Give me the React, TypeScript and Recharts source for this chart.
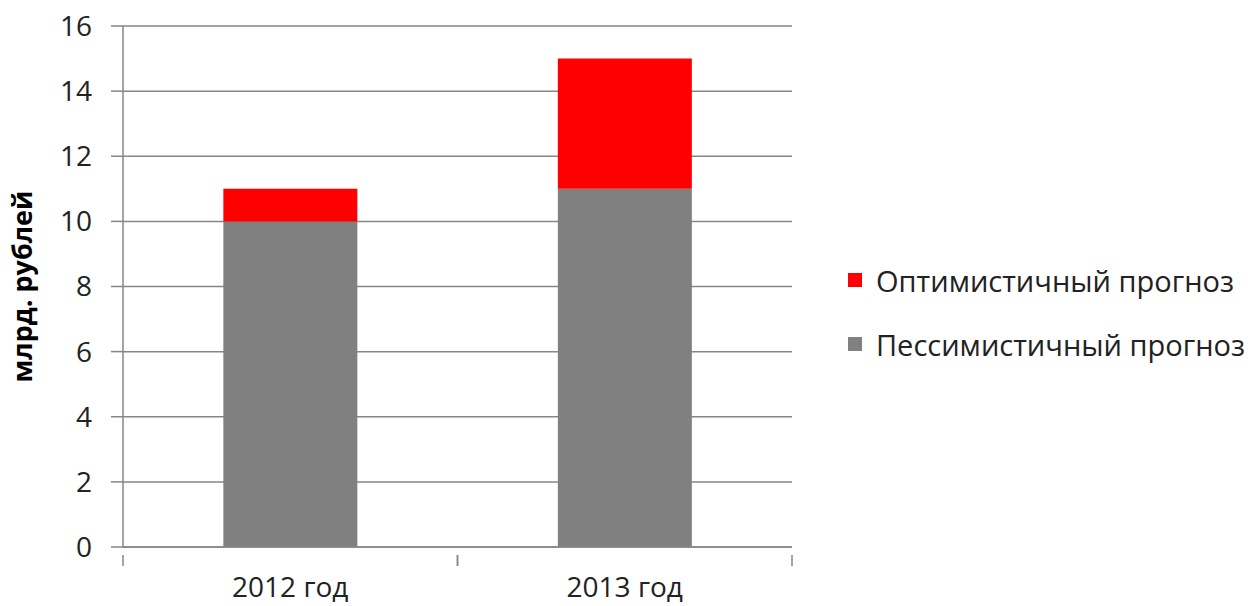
import { BarChart, Bar, XAxis, YAxis, CartesianGrid } from 'recharts';

const years = ['2012 год', '2013 год'];
const pessimistic = [10, 11];
const optimistic = [1, 4];
const yTicks = [0, 2, 4, 6, 8, 10, 12, 14, 16];
const seriesNames = ['Оптимистичный прогноз', 'Пессимистичный прогноз'];

const RED = '#ff0000';
const GRAY = '#808080';
const AXIS = '#868686';
const FONT = '"Open Sans", sans-serif';

const data = years.map((year, i) => ({
  year,
  pess: pessimistic[i],
  opt: optimistic[i],
}));

const CHART_W = 1258;
const CHART_H = 606;
const MARGIN = { top: 26, right: 466, bottom: 0, left: 0 };
const Y_AXIS_W = 123;
const X_AXIS_H = 59;
const HALF_BAND = (CHART_W - MARGIN.left - MARGIN.right - Y_AXIS_W) / years.length / 2;

function XTick({ x, y, payload }: any) {
  return (
    <g>
      <line x1={x - HALF_BAND} y1={y} x2={x - HALF_BAND} y2={y + 11} stroke={AXIS} strokeWidth={1.5} />
      <line x1={x + HALF_BAND} y1={y} x2={x + HALF_BAND} y2={y + 11} stroke={AXIS} strokeWidth={1.5} />
      <text x={x} y={y + 42} textAnchor="middle" fontSize={28} fontFamily={FONT} fill="#222">
        {payload.value}
      </text>
    </g>
  );
}

// legend drawn outside the chart so it doesn't eat plot space
function SideLegend() {
  const colors = [RED, GRAY];
  return (
    <div style={{ position: 'absolute', left: 848, top: 248, fontFamily: FONT, fontSize: 29, color: '#222' }}>
      {seriesNames.map((name, i) => (
        <div key={name} style={{ display: 'flex', alignItems: 'center', height: 64, whiteSpace: 'nowrap' }}>
          <div style={{ width: 14, height: 14, background: colors[i], marginRight: 14 }} />
          <span>{name}</span>
        </div>
      ))}
    </div>
  );
}

export default function App() {
  return (
    <div style={{ position: 'absolute', left: 0, top: 0, width: CHART_W, height: CHART_H, background: '#fff' }}>
      <BarChart width={CHART_W} height={CHART_H} data={data} margin={MARGIN} barCategoryGap="30%">
        <CartesianGrid vertical={false} stroke={AXIS} strokeWidth={1.5} />
        <XAxis
          dataKey="year"
          axisLine={{ stroke: AXIS, strokeWidth: 1.5 }}
          tickLine={false}
          tick={<XTick />}
          interval={0}
          height={X_AXIS_H}
        />
        <YAxis
          domain={[0, 16]}
          ticks={yTicks}
          width={Y_AXIS_W}
          axisLine={{ stroke: AXIS, strokeWidth: 1.5 }}
          tickLine={{ stroke: AXIS, strokeWidth: 1.5 }}
          tickSize={12}
          tickMargin={19}
          tick={{ fontSize: 28, fontFamily: FONT, fill: '#222' }}
          label={{
            value: 'млрд. рублей',
            angle: -90,
            position: 'insideLeft',
            dx: 17,
            style: { fontSize: 27, fontWeight: 'bold', fontFamily: FONT, fill: '#000', textAnchor: 'middle' },
          }}
        />
        <Bar dataKey="pess" name={seriesNames[1]} stackId="a" fill={GRAY} isAnimationActive={false} />
        <Bar dataKey="opt" name={seriesNames[0]} stackId="a" fill={RED} isAnimationActive={false} />
      </BarChart>
      <SideLegend />
    </div>
  );
}
